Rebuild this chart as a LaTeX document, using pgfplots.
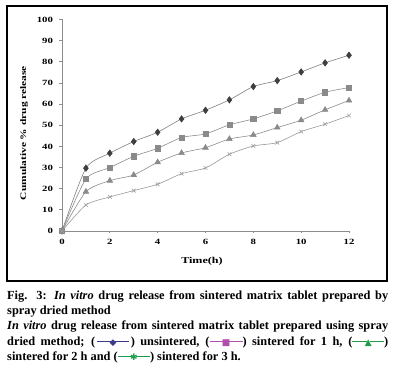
\documentclass[border=0pt]{standalone}
\usepackage{pgfplots}
\pgfplotsset{compat=1.18}
\usepackage{fontspec}
\setmainfont{Liberation Serif}
\newfontfamily\chartfont[FakeStretch=1.35]{Liberation Serif}
\newfontfamily\symfont{DejaVu Sans}
\definecolor{cdia}{HTML}{3F3F3F}
\definecolor{csq}{HTML}{8A8A8A}
\definecolor{ctri}{HTML}{8A8A8A}
\definecolor{cx}{HTML}{A0A0A0}
\definecolor{lnavy}{HTML}{3A3A8C}
\definecolor{lpink}{HTML}{B04FAE}
\definecolor{lgreen}{HTML}{1E9A4A}
\newcommand{\legsym}[2]{\textcolor{#1}{\rule[0.28em]{1.15em}{0.7pt}\kern-0.15em{\symfont\fontsize{9}{9}\selectfont #2}\kern-0.15em\rule[0.28em]{1.15em}{0.7pt}}}
\pgfplotstableread{
t dia sq tri xs
0 0 0 0 0
1 29.7 24.6 18.6 12.3
2 36.8 30.0 23.8 16.1
3 42.3 35.3 26.5 19.1
4 46.7 39.1 32.5 22.1
5 53.0 44.2 36.9 27.1
6 57.1 45.9 39.4 29.8
7 62.0 50.2 43.5 36.3
8 68.3 53.0 45.4 40.2
9 71.1 56.8 48.9 41.8
10 75.2 61.4 52.4 47.0
11 79.5 65.6 57.3 50.5
12 83.1 67.8 61.7 54.6
}\drugdata
\begin{document}
\begin{tikzpicture}[x=1bp,y=1bp]
\path[use as bounding box] (0,0) rectangle (399,376);
\draw[line width=1.1bp] (7,95) rectangle (387,370);
\begin{axis}[
  at={(62bp,145bp)}, anchor=south west,
  scale only axis, width=287bp, height=211.5bp,
  xmin=0, xmax=12, ymin=0, ymax=100,
  axis x line=bottom, axis y line=left,
  axis line style={-, color=gray!90, line width=0.9bp},
  xtick={0,2,...,12}, ytick={0,10,...,100},
  tick align=outside, major tick length=2.5bp,
  tick style={color=gray!90, line width=0.7bp},
  /pgf/number format/assume math mode=true,
  ticklabel style={font=\chartfont\bfseries\fontsize{8}{8}\selectfont},
  xticklabel style={yshift=-2bp},
  yticklabel style={xshift=-3bp},
  clip=false,
]
\addplot[color=gray, line width=0.6bp, smooth, tension=0.4, mark=diamond*, mark size=3.2bp, mark options={fill=cdia, draw=cdia}] table[x=t, y=dia] {\drugdata};
\addplot[color=gray!90, line width=0.6bp, smooth, tension=0.4, mark=square*, mark size=2.6bp, mark options={fill=csq, draw=csq}] table[x=t, y=sq] {\drugdata};
\addplot[color=gray!90, line width=0.6bp, smooth, tension=0.4, mark=triangle*, mark size=3.2bp, mark options={fill=ctri, draw=ctri}] table[x=t, y=tri] {\drugdata};
\addplot[color=gray!80, line width=0.6bp, smooth, tension=0.4, mark=x, mark size=2.6bp, mark options={draw=cx, line width=0.6bp}] table[x=t, y=xs] {\drugdata};
\end{axis}
\node[rotate=90, font=\chartfont\bfseries\fontsize{8.5}{9}\selectfont] at (24,243) {Cumulative \% drug release};
\node[font=\chartfont\bfseries\fontsize{9}{10}\selectfont] at (202,115) {Time(h)};
\begin{scope}[every node/.style={anchor=base west, inner sep=0pt, font=\bfseries\fontsize{12.4}{14}\selectfont}]
\node at (7,77) {\makebox[381bp][s]{Fig. 3: \textit{In vitro} drug release from sintered matrix tablet prepared by}};
\node at (7,62) {spray dried method};
\node at (7,47) {\makebox[381bp][s]{\textit{In vitro} drug release from sintered matrix tablet prepared using spray}};
\node at (7,31) {\makebox[381bp][s]{dried method; (\,\legsym{lnavy}{◆}\,) unsintered, (\legsym{lpink}{■}) sintered for 1 h, (\legsym{lgreen}{▲})}};
\node at (7,16) {sintered for 2 h and (\legsym{lgreen}{✱}) sintered for 3 h.};
\end{scope}
\end{tikzpicture}
\end{document}
